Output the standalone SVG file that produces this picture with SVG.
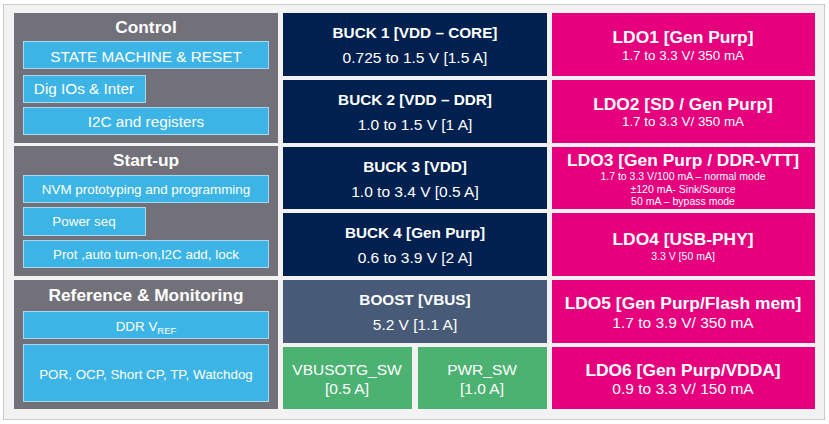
<svg xmlns="http://www.w3.org/2000/svg" width="829" height="424" viewBox="0 0 829 424">
<style>
text{font-family:"Liberation Sans",Arial,sans-serif;fill:#fff;text-anchor:middle}
.panel{fill:#727179}
.blue{fill:#3cb4e5;stroke:#a8d8ee;stroke-width:1}
.navy{fill:#00204f}
.boost{fill:#475a78}
.green{fill:#4cb271}
.mag{fill:#e6007e}
.pt{font-size:17.3px;font-weight:bold}
.bt{font-size:15.3px}
.st{font-size:13.4px}
.h{font-size:15.3px;font-weight:bold}
.s{font-size:15.5px}
.lh{font-size:17.4px;font-weight:bold}
.ls{font-size:13.4px}
.tiny{font-size:10.5px}
</style>
<rect x="3.5" y="4.5" width="821" height="415" fill="#f2f2f2" stroke="#c4ccd4" stroke-width="1"/>
<g id="control">
<rect class="panel" x="14" y="13" width="264" height="130"/>
<text class="pt" x="146" y="33">Control</text>
<rect class="blue" x="23.5" y="41.5" width="245" height="27"/>
<text class="bt" x="146" y="61.5">STATE MACHINE &amp; RESET</text>
<rect class="blue" x="23.5" y="75.5" width="122" height="27"/>
<text class="bt" x="84" y="94">Dig IOs &amp; Inter</text>
<rect class="blue" x="23.5" y="107.5" width="245" height="27"/>
<text class="bt" x="146" y="127">I2C and registers</text>
</g>
<g id="startup">
<rect class="panel" x="14" y="146" width="264" height="130"/>
<text class="pt" x="146" y="166">Start-up</text>
<rect class="blue" x="23.5" y="175.5" width="245" height="27"/>
<text class="st" x="146" y="194">NVM prototyping and programming</text>
<rect class="blue" x="23.5" y="207.5" width="122" height="28"/>
<text class="st" x="84" y="226">Power seq</text>
<rect class="blue" x="23.5" y="240.5" width="245" height="27"/>
<text class="st" x="146" y="259">Prot ,auto turn-on,I2C add, lock</text>
</g>
<g id="refmon">
<rect class="panel" x="14" y="280" width="264" height="129"/>
<text class="pt" x="146" y="301">Reference &amp; Monitoring</text>
<rect class="blue" x="23.5" y="311.5" width="245" height="27"/>
<text class="st" x="146" y="331">DDR V<tspan font-size="9.5" dy="3">REF</tspan></text>
<rect class="blue" x="23.5" y="344.5" width="245" height="57"/>
<text class="st" x="146" y="379">POR, OCP, Short CP, TP, Watchdog</text>
</g>
<g id="buck1">
<rect class="navy" x="283" y="13" width="264" height="63"/>
<text class="h" x="415" y="38">BUCK 1 [VDD – CORE]</text>
<text class="s" x="415" y="63">0.725 to 1.5 V [1.5 A]</text>
</g>
<g id="buck2">
<rect class="navy" x="283" y="80" width="264" height="63"/>
<text class="h" x="415" y="105">BUCK 2 [VDD – DDR]</text>
<text class="s" x="415" y="130">1.0 to 1.5 V [1 A]</text>
</g>
<g id="buck3">
<rect class="navy" x="283" y="147" width="264" height="62"/>
<text class="h" x="415" y="172">BUCK 3 [VDD]</text>
<text class="s" x="415" y="197">1.0 to 3.4 V [0.5 A]</text>
</g>
<g id="buck4">
<rect class="navy" x="283" y="213" width="264" height="63"/>
<text class="h" x="415" y="238">BUCK 4 [Gen Purp]</text>
<text class="s" x="415" y="263">0.6 to 3.9 V [2 A]</text>
</g>
<g id="boost">
<rect class="boost" x="283" y="280" width="264" height="63"/>
<text class="h" x="415" y="305">BOOST [VBUS]</text>
<text class="s" x="415" y="330">5.2 V [1.1 A]</text>
</g>
<g id="vbusotg">
<rect class="green" x="283" y="347" width="129" height="62"/>
<text class="s" x="347" y="375">VBUSOTG_SW</text>
<text class="s" x="347" y="394">[0.5 A]</text>
</g>
<g id="pwrsw">
<rect class="green" x="418" y="347" width="129" height="62"/>
<text class="s" x="482" y="375">PWR_SW</text>
<text class="s" x="482" y="394">[1.0 A]</text>
</g>
<g id="ldo1">
<rect class="mag" x="552" y="13" width="263" height="63"/>
<text class="lh" x="683" y="43">LDO1 [Gen Purp]</text>
<text class="ls" x="683" y="60">1.7 to 3.3 V/ 350 mA</text>
</g>
<g id="ldo2">
<rect class="mag" x="552" y="80" width="263" height="63"/>
<text class="lh" x="683" y="110">LDO2 [SD / Gen Purp]</text>
<text class="ls" x="683" y="126">1.7 to 3.3 V/ 350 mA</text>
</g>
<g id="ldo3">
<rect class="mag" x="552" y="147" width="263" height="62"/>
<text class="lh" x="683" y="166">LDO3 [Gen Purp / DDR-VTT]</text>
<text class="tiny" x="683" y="180">1.7 to 3.3 V/100 mA – normal mode</text>
<text class="tiny" x="683" y="193">±120 mA- Sink/Source</text>
<text class="tiny" x="683" y="205">50 mA – bypass mode</text>
</g>
<g id="ldo4">
<rect class="mag" x="552" y="213" width="263" height="63"/>
<text class="lh" x="683" y="245">LDO4 [USB-PHY]</text>
<text class="tiny" x="683" y="260">3.3 V [50 mA]</text>
</g>
<g id="ldo5">
<rect class="mag" x="552" y="280" width="263" height="63"/>
<text class="lh" x="683" y="309">LDO5 [Gen Purp/Flash mem]</text>
<text class="s" x="683" y="328">1.7 to 3.9 V/ 350 mA</text>
</g>
<g id="ldo6">
<rect class="mag" x="552" y="347" width="263" height="62"/>
<text class="lh" x="683" y="376">LDO6 [Gen Purp/VDDA]</text>
<text class="s" x="683" y="394">0.9 to 3.3 V/ 150 mA</text>
</g>
<g id="connectors"></g>
</svg>
